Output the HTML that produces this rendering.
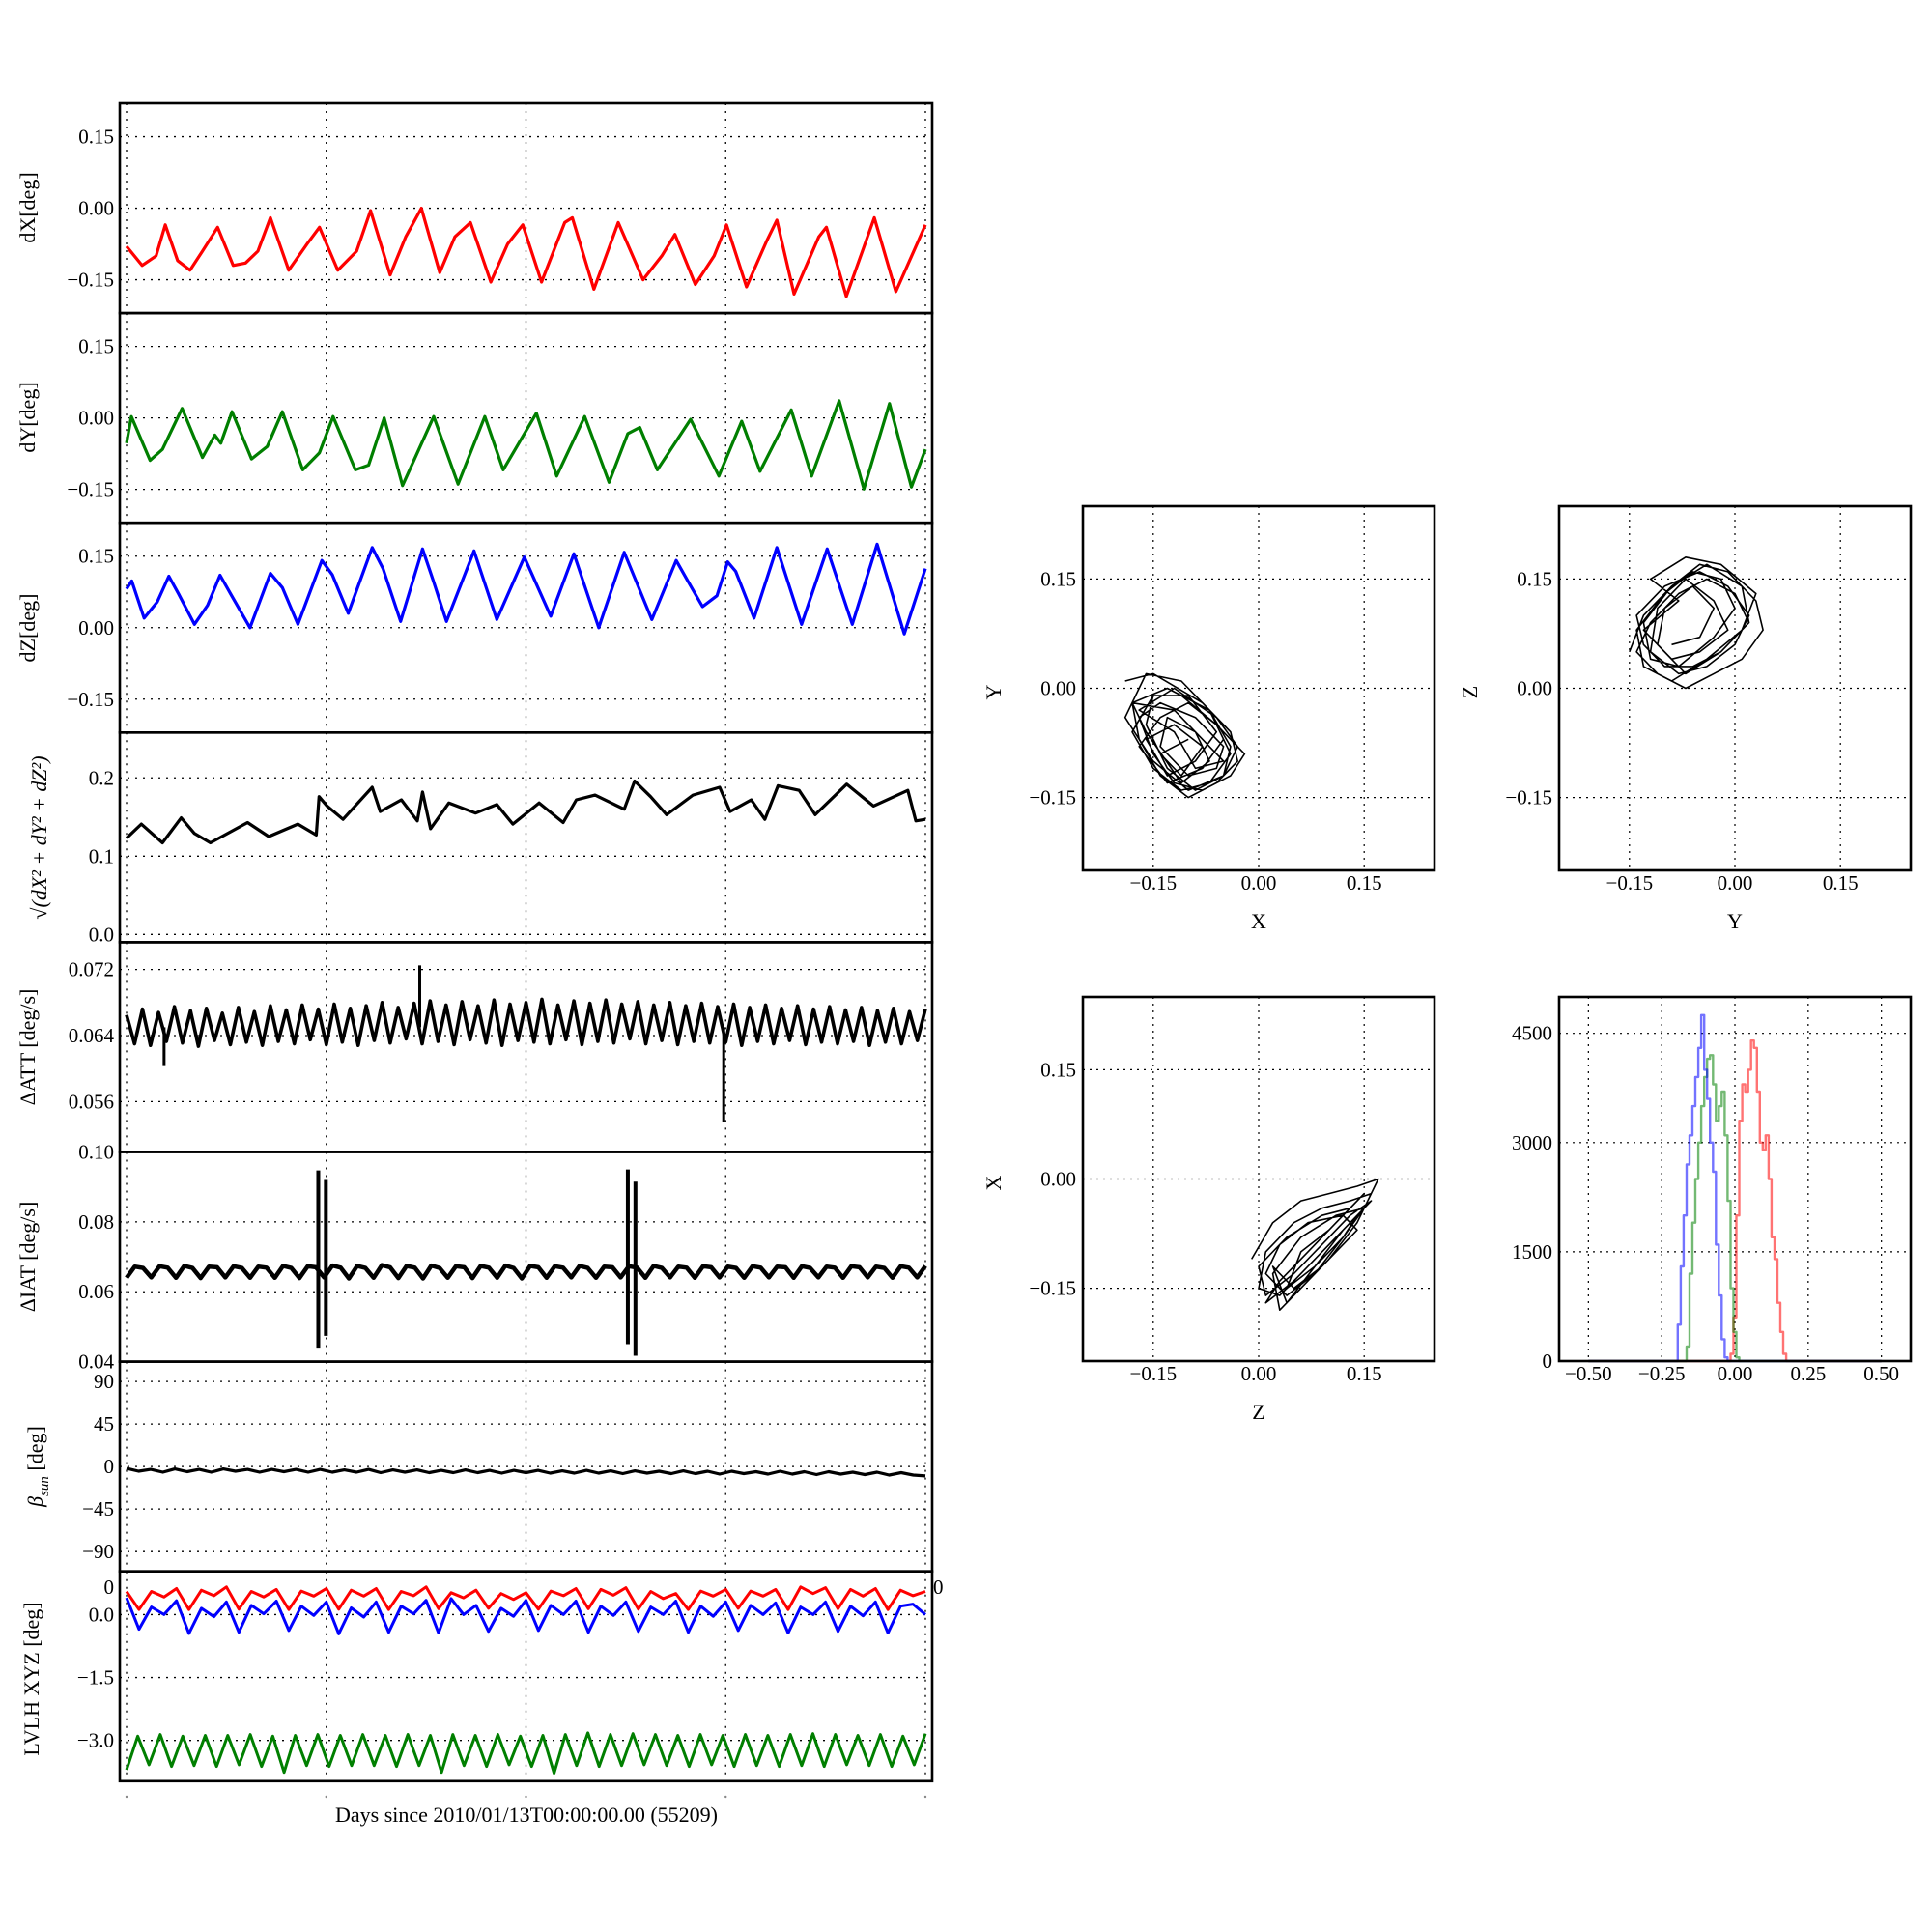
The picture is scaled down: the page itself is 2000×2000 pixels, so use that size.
<!DOCTYPE html>
<html><head><meta charset="utf-8">
<style>
html,body{margin:0;padding:0;background:#fff;}
svg{display:block;font-family:"Liberation Serif",serif;}
</style></head>
<body>
<svg id="fig" width="2000" height="2000" viewBox="0 0 2000 2000" xmlns="http://www.w3.org/2000/svg">
<rect x="0" y="0" width="2000" height="2000" fill="#fff"/>
<g id="layer"></g>
<text x="545" y="1886" font-size="22" text-anchor="middle">Days since 2010/01/13T00:00:00.00 (55209)</text>
</svg>
<script>
// ---------- time series data ----------
const dxT=[0,0.39,0.74,0.97,1.28,1.59,1.9,2.28,2.67,2.98,3.29,3.6,4.06,4.52,4.83,5.29,5.76,6.11,6.6,6.99,7.38,7.84,8.22,8.61,9.12,9.54,9.92,10.39,10.97,11.16,11.7,12.31,12.93,13.4,13.73,14.24,14.71,15.02,15.52,16.02,16.28,16.71,17.33,17.52,18.02,18.72,19.26,20];
const dxV=[-0.08,-0.12,-0.10,-0.035,-0.11,-0.13,-0.09,-0.04,-0.12,-0.115,-0.09,-0.02,-0.13,-0.075,-0.04,-0.13,-0.09,-0.005,-0.14,-0.06,0.0,-0.135,-0.06,-0.03,-0.155,-0.075,-0.035,-0.155,-0.03,-0.02,-0.17,-0.03,-0.15,-0.10,-0.055,-0.16,-0.10,-0.035,-0.165,-0.07,-0.025,-0.18,-0.06,-0.04,-0.185,-0.02,-0.175,-0.035];
const dyT=[0,0.12,0.59,0.9,1.39,1.9,2.21,2.36,2.64,3.13,3.52,3.9,4.41,4.83,5.17,5.73,6.06,6.45,6.91,7.69,8.3,8.97,9.43,10.26,10.77,11.47,12.08,12.55,12.85,13.29,14.12,14.83,15.4,15.86,16.64,17.15,17.84,18.46,19.1,19.65,20];
const dyV=[-0.053,0.003,-0.089,-0.066,0.02,-0.083,-0.036,-0.053,0.013,-0.086,-0.06,0.013,-0.109,-0.073,0.003,-0.109,-0.099,0.0,-0.142,0.003,-0.139,0.003,-0.109,0.01,-0.122,0.003,-0.135,-0.033,-0.02,-0.109,-0.003,-0.122,-0.007,-0.112,0.017,-0.122,0.036,-0.149,0.03,-0.145,-0.066];
const dzT=[0,0.13,0.44,0.77,1.06,1.3,1.7,2.03,2.34,2.63,3.09,3.6,3.9,4.29,4.89,5.15,5.55,6.15,6.42,6.86,7.41,7.68,8.01,8.7,9.27,9.96,10.62,11.2,11.82,12.46,13.15,13.76,14.05,14.42,14.78,15.05,15.25,15.71,16.28,16.9,17.54,18.17,18.79,19.47,20];
const dzV=[0.081,0.098,0.02,0.054,0.108,0.071,0.007,0.047,0.11,0.067,0.0,0.114,0.084,0.007,0.141,0.111,0.03,0.168,0.124,0.013,0.165,0.098,0.013,0.161,0.017,0.148,0.024,0.155,0.0,0.158,0.017,0.141,0.098,0.044,0.067,0.138,0.118,0.02,0.168,0.007,0.165,0.007,0.175,-0.013,0.124];
const rT=[0,0.37,0.9,1.37,1.7,2.1,3.03,3.56,4.29,4.75,4.82,5.02,5.42,6.15,6.35,6.88,7.28,7.41,7.61,8.07,8.74,9.27,9.67,10.33,10.93,11.26,11.73,12.46,12.72,13.12,13.52,14.18,14.85,15.11,15.64,15.98,16.31,16.84,17.24,18.03,18.7,19.56,19.76,20];
const rV=[0.123,0.141,0.117,0.149,0.129,0.117,0.143,0.125,0.141,0.127,0.176,0.164,0.147,0.188,0.157,0.172,0.145,0.182,0.135,0.168,0.155,0.166,0.141,0.168,0.143,0.172,0.178,0.16,0.196,0.176,0.153,0.178,0.188,0.157,0.172,0.147,0.19,0.184,0.153,0.192,0.164,0.184,0.145,0.147];
const attV=[0.0665,0.0630,0.0672,0.0628,0.0668,0.0633,0.0675,0.0631,0.0670,0.0627,0.0673,0.0634,0.0667,0.0629,0.0674,0.0632,0.0669,0.0628,0.0676,0.0633,0.0671,0.0630,0.0677,0.0635,0.0672,0.0629,0.0678,0.0632,0.0673,0.0628,0.0676,0.0634,0.0680,0.0631,0.0674,0.0636,0.0679,0.0630,0.0682,0.0633,0.0677,0.0629,0.0681,0.0635,0.0676,0.0631,0.0683,0.0628,0.0678,0.0634,0.0680,0.0632,0.0684,0.0630,0.0677,0.0635,0.0682,0.0629,0.0679,0.0633,0.0683,0.0631,0.0678,0.0636,0.0681,0.0630,0.0677,0.0634,0.0680,0.0629,0.0676,0.0633,0.0679,0.0631,0.0675,0.0632,0.0678,0.0628,0.0674,0.0633,0.0677,0.0630,0.0673,0.0634,0.0676,0.0629,0.0672,0.0632,0.0675,0.0630,0.0671,0.0633,0.0674,0.0628,0.0670,0.0632,0.0673,0.0630,0.0669,0.0634,0.0672];
const attSpikeT=[0.94,7.34,14.95];
const attSpikeV=[0.0603,0.0725,0.0535];
const iatV=[0.0640,0.0672,0.0668,0.0641,0.0673,0.0669,0.0640,0.0674,0.0668,0.0639,0.0672,0.0670,0.0641,0.0673,0.0668,0.0640,0.0672,0.0669,0.0640,0.0674,0.0668,0.0639,0.0673,0.0670,0.0641,0.0675,0.0669,0.0638,0.0674,0.0668,0.0640,0.0676,0.0670,0.0639,0.0674,0.0669,0.0638,0.0675,0.0668,0.0640,0.0673,0.0670,0.0639,0.0674,0.0669,0.0640,0.0675,0.0668,0.0638,0.0674,0.0670,0.0640,0.0673,0.0669,0.0641,0.0674,0.0668,0.0640,0.0672,0.0670,0.0641,0.0673,0.0669,0.0640,0.0674,0.0668,0.0641,0.0672,0.0669,0.0640,0.0673,0.0670,0.0641,0.0672,0.0668,0.0640,0.0673,0.0669,0.0641,0.0672,0.0670,0.0640,0.0673,0.0668,0.0641,0.0672,0.0669,0.0640,0.0673,0.0670,0.0641,0.0672,0.0668,0.0640,0.0673,0.0669,0.0641,0.0674];
const iatBurstT=[4.80,4.99,12.55,12.74];
const iatBurstHi=[0.0947,0.092,0.095,0.0915];
const iatBurstLo=[0.044,0.0474,0.045,0.0417];
const betaV=[-2,-5,-3,-6,-2.5,-5.5,-3,-6,-2.5,-5,-3,-6,-3,-5.5,-3,-6,-3,-6,-3.5,-6,-3,-6.5,-3.5,-6,-3.5,-6.5,-4,-6.5,-3.5,-6.5,-4,-7,-4,-6.5,-4,-7,-4.5,-7,-4,-7,-4.5,-7.5,-4.5,-7,-5,-7.5,-4.5,-7.5,-5,-8,-5,-7.5,-5.5,-8,-5,-8,-5.5,-8.5,-5.5,-8,-6,-8.5,-6,-9,-6.5,-9,-10];
const lvRed=[0.55,0.12,0.55,0.42,0.62,0.12,0.58,0.45,0.66,0.13,0.55,0.42,0.60,0.12,0.56,0.44,0.62,0.13,0.58,0.44,0.62,0.12,0.55,0.45,0.66,0.14,0.52,0.40,0.58,0.15,0.50,0.36,0.52,0.13,0.56,0.45,0.62,0.14,0.60,0.46,0.64,0.13,0.55,0.38,0.50,0.12,0.56,0.44,0.60,0.15,0.56,0.44,0.60,0.12,0.66,0.50,0.64,0.14,0.60,0.44,0.62,0.12,0.58,0.45,0.55];
const lvBlue=[0.40,-0.35,0.18,0.0,0.33,-0.45,0.15,-0.05,0.30,-0.42,0.22,0.02,0.32,-0.38,0.20,-0.02,0.30,-0.46,0.16,-0.06,0.30,-0.42,0.20,0.02,0.34,-0.44,0.38,0.0,0.22,-0.40,0.15,-0.04,0.34,-0.38,0.22,0.0,0.32,-0.42,0.20,-0.02,0.30,-0.40,0.18,0.0,0.32,-0.42,0.20,-0.04,0.30,-0.38,0.22,0.0,0.28,-0.44,0.18,0.0,0.30,-0.40,0.20,-0.03,0.30,-0.44,0.20,0.25,0.0];
const lvGreen=[-3.70,-2.90,-3.58,-2.86,-3.62,-2.90,-3.60,-2.88,-3.62,-2.88,-3.58,-2.86,-3.62,-2.90,-3.76,-2.88,-3.60,-2.86,-3.62,-2.88,-3.60,-2.86,-3.60,-2.88,-3.62,-2.86,-3.60,-2.88,-3.76,-2.86,-3.60,-2.88,-3.62,-2.86,-3.58,-2.90,-3.62,-2.88,-3.78,-2.86,-3.60,-2.82,-3.62,-2.86,-3.60,-2.84,-3.58,-2.86,-3.60,-2.88,-3.62,-2.86,-3.58,-2.88,-3.62,-2.86,-3.60,-2.88,-3.62,-2.86,-3.60,-2.84,-3.62,-2.86,-3.58,-2.88,-3.60,-2.86,-3.62,-2.90,-3.58,-2.84];
// ---------- scatter data ----------
const xyX=[-0.19,-0.15,-0.08,-0.04,-0.03,-0.06,-0.10,-0.14,-0.17,-0.18,-0.13,-0.07,-0.04,-0.05,-0.09,-0.13,-0.16,-0.15,-0.11,-0.06,-0.02,-0.04,-0.08,-0.12,-0.15,-0.17,-0.14,-0.09,-0.05,-0.06,-0.10,-0.14,-0.13,-0.09,-0.07,-0.11,-0.16,-0.18,-0.12,-0.08,-0.05,-0.09,-0.12,-0.17,-0.12,-0.06,-0.03,-0.05,-0.10,-0.15,-0.19,-0.16,-0.11,-0.07,-0.05,-0.08,-0.13,-0.17,-0.14,-0.10,-0.06,-0.04,-0.07,-0.11,-0.15,-0.18,-0.15,-0.10,-0.06,-0.09,-0.13,-0.16,-0.12,-0.08,-0.11,-0.14,-0.10];
const xyY=[0.01,0.02,-0.02,-0.06,-0.10,-0.13,-0.15,-0.12,-0.07,-0.02,0.00,-0.03,-0.08,-0.12,-0.14,-0.11,-0.05,-0.01,-0.01,-0.05,-0.09,-0.12,-0.14,-0.13,-0.09,-0.04,-0.02,-0.04,-0.08,-0.11,-0.12,-0.08,-0.04,-0.06,-0.10,-0.13,-0.06,-0.02,-0.03,-0.07,-0.10,-0.11,-0.06,-0.03,0.00,-0.04,-0.08,-0.12,-0.14,-0.10,-0.04,0.02,0.01,-0.03,-0.07,-0.11,-0.13,-0.08,-0.04,-0.02,-0.05,-0.09,-0.13,-0.14,-0.11,-0.06,-0.01,-0.01,-0.06,-0.10,-0.12,-0.07,-0.05,-0.08,-0.12,-0.09,-0.07];
const yzY=[-0.15,-0.13,-0.09,-0.05,-0.01,0.03,0.04,0.01,-0.03,-0.07,-0.11,-0.14,-0.12,-0.08,-0.04,0.00,0.02,-0.02,-0.06,-0.10,-0.13,-0.14,-0.10,-0.05,-0.01,0.02,0.00,-0.04,-0.08,-0.12,-0.11,-0.07,-0.03,-0.01,-0.05,-0.09,-0.13,-0.08,-0.12,-0.07,-0.02,0.03,0.01,-0.04,-0.09,-0.13,-0.14,-0.10,-0.06,-0.02,0.00,-0.03,-0.08,-0.12,-0.13,-0.09,-0.04,0.01,0.02,-0.02,-0.07,-0.11,-0.10,-0.06,-0.03,-0.05,-0.09];
const yzZ=[0.05,0.10,0.14,0.17,0.16,0.12,0.08,0.04,0.02,0.00,0.02,0.05,0.09,0.13,0.15,0.13,0.09,0.05,0.03,0.03,0.06,0.10,0.14,0.16,0.14,0.10,0.06,0.03,0.02,0.05,0.11,0.15,0.12,0.08,0.05,0.04,0.08,0.12,0.15,0.18,0.17,0.13,0.08,0.04,0.01,0.03,0.08,0.13,0.16,0.15,0.11,0.07,0.03,0.04,0.09,0.14,0.17,0.14,0.09,0.05,0.02,0.06,0.11,0.14,0.11,0.07,0.06];
const xzZ=[-0.01,0.02,0.06,0.10,0.14,0.17,0.15,0.11,0.07,0.03,0.00,0.01,0.05,0.09,0.13,0.16,0.14,0.10,0.06,0.03,0.02,0.06,0.11,0.15,0.12,0.08,0.04,0.01,0.03,0.07,0.12,0.14,0.09,0.05,0.02,0.04,0.08,0.12,0.16,0.13,0.09,0.05,0.01,0.00,0.04,0.09,0.13,0.15,0.11,0.07,0.03,0.01,0.05,0.10,0.14,0.12,0.08,0.04,0.06,0.10];
const xzX=[-0.11,-0.06,-0.03,-0.02,-0.01,0.00,-0.04,-0.08,-0.12,-0.16,-0.15,-0.10,-0.06,-0.04,-0.03,-0.02,-0.06,-0.11,-0.15,-0.18,-0.13,-0.08,-0.05,-0.04,-0.08,-0.13,-0.16,-0.13,-0.09,-0.06,-0.05,-0.07,-0.12,-0.15,-0.12,-0.17,-0.12,-0.07,-0.03,-0.05,-0.09,-0.13,-0.16,-0.12,-0.08,-0.05,-0.04,-0.02,-0.06,-0.10,-0.14,-0.17,-0.14,-0.09,-0.05,-0.08,-0.12,-0.15,-0.10,-0.07];
// ---------- histogram data ----------
const histBins=[-0.20,-0.19,-0.18,-0.17,-0.16,-0.15,-0.14,-0.13,-0.12,-0.11,-0.10,-0.09,-0.08,-0.07,-0.06,-0.05,-0.04,-0.03,-0.02,-0.01,0.00,0.01,0.02,0.03,0.04,0.05,0.06,0.07,0.08,0.09,0.10,0.11,0.12,0.13,0.14,0.15,0.16,0.17,0.18];
const histBlue=[0,500,1300,2000,2700,3100,3500,3900,4300,4750,4000,3600,3000,2600,1600,900,300,50,0,0,0,0,0,0,0,0,0,0,0,0,0,0,0,0,0,0,0,0,0];
const histGreen=[0,0,0,0,200,1200,1900,2500,3000,3500,3900,4150,4200,3800,3300,3500,3700,3100,2200,1000,400,50,0,0,0,0,0,0,0,0,0,0,0,0,0,0,0,0,0];
const histRed=[0,0,0,0,0,0,0,0,0,0,0,0,0,0,0,0,0,0,0,100,600,2000,3300,3800,3700,4000,4400,4300,3700,3000,2900,3100,2500,1700,1400,800,400,100,0];

const NS='http://www.w3.org/2000/svg';
const layer=document.getElementById('layer');
function mk(tag,attrs,parent){const e=document.createElementNS(NS,tag);for(const k in attrs)e.setAttribute(k,attrs[k]);(parent||layer).appendChild(e);return e;}

const LX0=124,LX1=965,PT=107,PH=217.1;
function xDay(t){return 131+t*41.35;}
const dayTicks=[0,5,10,15,20];

function panel(k,ylim,ticks,labels,name){
  const top=PT+k*PH,bot=top+PH;
  const y=v=>bot-(v-ylim[0])/(ylim[1]-ylim[0])*PH;
  const g=mk('g',{});
  
  
  dayTicks.forEach(t=>{const l=mk('line',{x1:xDay(t),x2:xDay(t),y1:top,y2:bot,stroke:'#000','stroke-width':1.3,'stroke-dasharray':'2,6'},g);});
  ticks.forEach((v,i)=>{
    const yy=y(v);
    const l=mk('line',{x1:LX0,x2:LX1,y1:yy,y2:yy,stroke:'#000','stroke-width':1.3,'stroke-dasharray':'2,6'},g);
    
    const tx=mk('text',{x:118,y:yy+7,'font-size':21,'text-anchor':'end'},g);tx.textContent=labels[i];
    
  });
  return {g,y,top,bot};
}
function frame(top,bot,x0,x1,name){
  const r=mk('rect',{x:x0,y:top,width:x1-x0,height:bot-top,fill:'none',stroke:'#000','stroke-width':2.6});
  
}
function path(pts,attrs,g,name){
  const d=pts.map((p,i)=>(i?'L':'M')+p[0].toFixed(1)+' '+p[1].toFixed(1)).join('');
  const e=mk('path',Object.assign({d:d,fill:'none','stroke-linejoin':'round'},attrs),g);
  return e;
}
function ylab(txt,cx,cy,name,italic){
  const t=mk('text',{x:cx,y:cy,'font-size':22,'text-anchor':'middle',transform:`rotate(-90 ${cx} ${cy})`});
  
  if(italic)t.setAttribute('font-style','italic');
  t.textContent=txt;return t;
}
const grid=(arr)=>arr.map((v,i)=>20*i/(arr.length-1));

let P=panel(0,[-0.22,0.22],[0.15,0,-0.15],['0.15','0.00','\u22120.15'],'dx');
path(dxT.map((t,i)=>[xDay(t),P.y(dxV[i])]),{stroke:'#ff0000','stroke-width':3.2},P.g,'dx-line');
ylab('dX[deg]',36,215,'dx-axis-title');
P=panel(1,[-0.22,0.22],[0.15,0,-0.15],['0.15','0.00','\u22120.15'],'dy');
path(dyT.map((t,i)=>[xDay(t),P.y(dyV[i])]),{stroke:'#007f00','stroke-width':3.2},P.g,'dy-line');
ylab('dY[deg]',36,432,'dy-axis-title');
P=panel(2,[-0.22,0.22],[0.15,0,-0.15],['0.15','0.00','\u22120.15'],'dz');
path(dzT.map((t,i)=>[xDay(t),P.y(dzV[i])]),{stroke:'#0000ff','stroke-width':3.2},P.g,'dz-line');
ylab('dZ[deg]',36,650,'dz-axis-title');
P=panel(3,[-0.01,0.258],[0.2,0.1,0.0],['0.2','0.1','0.0'],'magnitude');
path(rT.map((t,i)=>[xDay(t),P.y(rV[i])]),{stroke:'#000','stroke-width':3.2},P.g,'magnitude-line');
ylab('\u221A(dX\u00B2 + dY\u00B2 + dZ\u00B2)',48,867,'magnitude-axis-title',true);
P=panel(4,[0.0499,0.0753],[0.072,0.064,0.056],['0.072','0.064','0.056'],'att');
const ag=grid(attV);
path(attV.map((v,i)=>[xDay(ag[i]),P.y(v)]),{stroke:'#000','stroke-width':3.6},P.g,'att-line');
attSpikeT.forEach((t,i)=>{const l=mk('line',{x1:xDay(t),x2:xDay(t),y1:P.y(0.065),y2:P.y(attSpikeV[i]),stroke:'#000','stroke-width':3},P.g);});
ylab('\u0394ATT [deg/s]',36,1084,'att-axis-title');
P=panel(5,[0.04,0.10],[0.10,0.08,0.06,0.04],['0.10','0.08','0.06','0.04'],'iat');
const ig=grid(iatV);
path(iatV.map((v,i)=>[xDay(ig[i]),P.y(v)]),{stroke:'#000','stroke-width':4.5},P.g,'iat-line');
iatBurstT.forEach((t,i)=>{const l=mk('line',{x1:xDay(t),x2:xDay(t),y1:P.y(iatBurstHi[i]),y2:P.y(iatBurstLo[i]),stroke:'#000','stroke-width':4},P.g);});
ylab('\u0394IAT [deg/s]',36,1301,'iat-axis-title');
P=panel(6,[-111,111],[90,45,0,-45,-90],['90','45','0','\u221245','\u221290'],'beta');
const bg=grid(betaV);
path(betaV.map((v,i)=>[xDay(bg[i]),P.y(v)]),{stroke:'#000','stroke-width':3.2},P.g,'beta-line');
{const cx=44,cy=1518;const t=mk('text',{x:cx,y:cy,'font-size':22,'text-anchor':'middle',transform:`rotate(-90 ${cx} ${cy})`});

const a=mk('tspan',{'font-style':'italic'},t);a.textContent='\u03B2';
const b=mk('tspan',{'font-style':'italic','font-size':15,dy:6},t);b.textContent='sun';
const c=mk('tspan',{dy:-6},t);c.textContent=' [deg]';}
P=panel(7,[-3.97,1.03],[0.0,-1.5,-3.0],['0.0','\u22121.5','\u22123.0'],'lvlh');
path(lvRed.map((v,i)=>[xDay(grid(lvRed)[i]),P.y(v)]),{stroke:'#ff0000','stroke-width':3},P.g,'lvlh-x-line');
path(lvBlue.map((v,i)=>[xDay(grid(lvBlue)[i]),P.y(v)]),{stroke:'#0000ff','stroke-width':3},P.g,'lvlh-y-line');
path(lvGreen.map((v,i)=>[xDay(grid(lvGreen)[i]),P.y(v)]),{stroke:'#007f00','stroke-width':3},P.g,'lvlh-z-line');
ylab('LVLH XYZ [deg]',40,1738,'lvlh-axis-title');
{let t=mk('text',{x:118,y:1650,'font-size':21,'text-anchor':'end'});t.textContent='0';
t=mk('text',{x:966,y:1650,'font-size':21});t.textContent='0';}
dayTicks.forEach(t=>{const c=mk('circle',{cx:xDay(t),cy:1860,r:1.2,fill:'#888'});});
for(let k=0;k<8;k++)frame(PT+k*PH,PT+(k+1)*PH,LX0,LX1,'panel-frame');

function rpanel(x0,y0,xlim,ylim,xt,xl,yt,yl,name){
  const W=364,H=377;
  const sx=v=>x0+(v-xlim[0])/(xlim[1]-xlim[0])*W;
  const sy=v=>y0+H-(v-ylim[0])/(ylim[1]-ylim[0])*H;
  const g=mk('g',{});
  xt.forEach((v,i)=>{const l=mk('line',{x1:sx(v),x2:sx(v),y1:y0,y2:y0+H,stroke:'#000','stroke-width':1.2,'stroke-dasharray':'2,5'},g);
    const t=mk('text',{x:sx(v),y:y0+H+20,'font-size':21,'text-anchor':'middle'},g);t.textContent=xl[i];});
  yt.forEach((v,i)=>{const l=mk('line',{x1:x0,x2:x0+W,y1:sy(v),y2:sy(v),stroke:'#000','stroke-width':1.2,'stroke-dasharray':'2,5'},g);
    const t=mk('text',{x:x0-7,y:sy(v)+7,'font-size':21,'text-anchor':'end'},g);t.textContent=yl[i];});
  return {g,sx,sy,x0,y0,W,H};
}
const t3=[-0.15,0,0.15],l3=['\u22120.15','0.00','0.15'],l3y=['0.15','0.00','\u22120.15'],t3y=[0.15,0,-0.15];
function scatterPanel(x0,y0,xs,ys,xn,yn,name){
  const R=rpanel(x0,y0,[-0.25,0.25],[-0.25,0.25],t3,l3,t3y,l3y,name);
  path(xs.map((v,i)=>[R.sx(v),R.sy(ys[i])]),{stroke:'#000','stroke-width':1.6},R.g,name+'-trace');
  frame(y0,y0+R.H,x0,x0+R.W,name+'-frame');
  let t=mk('text',{x:x0+R.W/2,y:y0+R.H+60,'font-size':22,'text-anchor':'middle'});t.textContent=xn;
  const cx=x0-85,cy=y0+R.H/2+4;
  t=mk('text',{x:cx,y:cy,'font-size':22,'text-anchor':'middle',transform:`rotate(-90 ${cx} ${cy})`});t.textContent=yn;
}
scatterPanel(1121,524,xyX,xyY,'X','Y','xy-scatter');
scatterPanel(1614,524,yzY,yzZ,'Y','Z','yz-scatter');
scatterPanel(1121,1032,xzZ,xzX,'Z','X','zx-scatter');
{const R=rpanel(1614,1032,[-0.6,0.6],[0,5000],[-0.5,-0.25,0,0.25,0.5],['\u22120.50','\u22120.25','0.00','0.25','0.50'],[4500,3000,1500,0],['4500','3000','1500','0'],'histogram');
 const hw=0.005;
 function hist(counts,color,name){
   const pts=[[R.sx(-0.5),R.sy(0)]];
   histBins.forEach((b,i)=>{pts.push([R.sx(b-hw),R.sy(counts[i])]);pts.push([R.sx(b+hw),R.sy(counts[i])]);});
   pts.push([R.sx(0.5),R.sy(0)]);
   const p=[];pts.forEach((q,i)=>{if(i>0)p.push([q[0],pts[i-1][1]]);p.push(q);});
   path(p,{stroke:color,'stroke-width':2.4,'stroke-opacity':0.55},R.g,name);
 }
 hist(histRed,'#ff0000','hist-dx');
 hist(histGreen,'#008000','hist-dy');
 hist(histBlue,'#0000ff','hist-dz');
 frame(1032,1032+R.H,1614,1614+R.W,'histogram-frame');
}
</script>
</body></html>
